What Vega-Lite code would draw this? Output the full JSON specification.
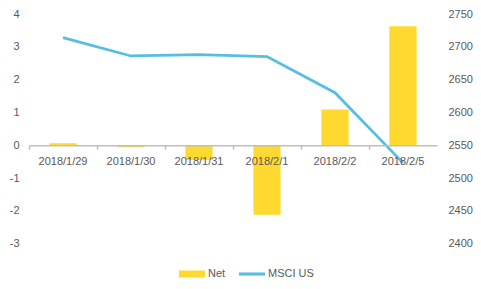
{
  "$schema": "https://vega.github.io/schema/vega-lite/v6.json",
  "width": 408,
  "height": 246,
  "autosize": {"type": "none"},
  "padding": {"left": 29, "top": 14, "right": 44, "bottom": 29},
  "background": "white",
  "config": {
    "view": {"stroke": null},
    "font": "Liberation Sans",
    "axis": {"labelColor": "#595959", "labelFontSize": 11, "grid": false, "domain": false, "ticks": false, "title": null}
  },
  "data": {
    "values": [
      {"date": "2018/1/29", "net": 0.06, "msci": 2714},
      {"date": "2018/1/30", "net": -0.06, "msci": 2686},
      {"date": "2018/1/31", "net": -0.45, "msci": 2688},
      {"date": "2018/2/1", "net": -2.12, "msci": 2685},
      {"date": "2018/2/2", "net": 1.09, "msci": 2630},
      {"date": "2018/2/5", "net": 3.63, "msci": 2523}
    ]
  },
  "encoding": {
    "x": {
      "field": "date",
      "type": "ordinal",
      "sort": null,
      "scale": {"paddingInner": 0, "paddingOuter": 0},
      "axis": {
        "orient": "bottom",
        "offset": -114.8,
        "labelAngle": 0,
        "domain": true,
        "domainColor": "#BFBFBF",
        "domainWidth": 1.5,
        "ticks": true,
        "tickColor": "#BFBFBF",
        "tickWidth": 1.5,
        "tickSize": 4,
        "bandPosition": 0,
        "labelPadding": 6,
        "zindex": 1
      }
    }
  },
  "layer": [
    {
      "mark": {"type": "bar", "width": {"band": 0.4}},
      "encoding": {
        "y": {
          "field": "net",
          "type": "quantitative",
          "scale": {"domain": [-3.5, 4], "nice": false},
          "axis": {"orient": "left", "values": [-3, -2, -1, 0, 1, 2, 3, 4], "labelExpr": "'' + datum.value", "labelPadding": 10}
        },
        "color": {
          "datum": "Net",
          "scale": {"domain": ["Net", "MSCI US"], "range": ["#FFD92F", "#56BDE3"]},
          "legend": {
            "orient": "none",
            "legendX": 150,
            "legendY": 247,
            "direction": "horizontal",
            "title": null,
            "symbolSize": 676,
            "symbolStrokeWidth": 0,
            "labelFontSize": 11,
            "labelColor": "#595959",
            "columnPadding": 13,
            "labelOffset": 3,
            "padding": 0,
            "encode": {
              "symbols": {
                "update": {
                  "shape": {"signal": "datum.value === 'Net' ? 'M-1,-0.27H1V0.27H-1Z' : 'M-1,-0.12H1V0.12H-1Z'"},
                  "fill": {"scale": "color", "field": "value"},
                  "strokeWidth": {"value": 0},
                  "opacity": {"value": 1}
                }
              }
            }
          }
        }
      }
    },
    {
      "mark": {"type": "line", "strokeWidth": 2.75},
      "encoding": {
        "y": {
          "field": "msci",
          "type": "quantitative",
          "scale": {"domain": [2375, 2750], "nice": false, "zero": false},
          "axis": {"orient": "right", "values": [2400, 2450, 2500, 2550, 2600, 2650, 2700, 2750], "format": "d", "labelPadding": 11}
        },
        "color": {"datum": "MSCI US"}
      }
    }
  ],
  "resolve": {"scale": {"y": "independent"}}
}
